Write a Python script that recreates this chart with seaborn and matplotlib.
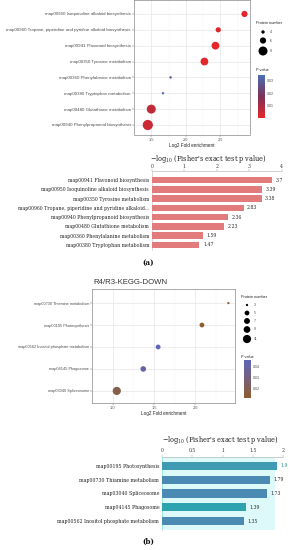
import numpy as np
import pandas as pd
import matplotlib
matplotlib.use("Agg")
import matplotlib.pyplot as plt
import seaborn as sns
from matplotlib.colors import LinearSegmentedColormap, Normalize
from matplotlib.cm import ScalarMappable

# ---------------- data ----------------
# (a) dot plot
a_dot_pathways = [
    "map00950 Isoquinoline alkaloid biosynthesis",
    "map00960 Tropane, piperidine and pyridine alkaloid biosynthesis",
    "map00941 Flavonoid biosynthesis",
    "map00350 Tyrosine metabolism",
    "map00360 Phenylalanine metabolism",
    "map00380 Tryptophan metabolism",
    "map00480 Glutathione metabolism",
    "map00940 Phenylpropanoid biosynthesis",
]
a_dot_fold = [2.85, 2.47, 2.43, 2.27, 1.78, 1.67, 1.50, 1.45]
a_dot_proteins = [6, 5, 7, 7, 3, 3, 8, 9]
a_dot_pvalue = [0.0004, 0.0015, 0.0002, 0.0004, 0.0257, 0.0339, 0.0059, 0.0044]
a_size_breaks = [4, 6, 8]
a_p_ticks = [0.01, 0.02, 0.03]

# (a) bar chart
a_bar_labels = [
    "map00941 Flavonoid biosynthesis",
    "map00950 Isoquinoline alkaloid biosynthesis",
    "map00350 Tyrosine metabolism",
    "map00960 Tropane, piperidine and pyridine alkaloid...",
    "map00940 Phenylpropanoid biosynthesis",
    "map00480 Glutathione metabolism",
    "map00360 Phenylalanine metabolism",
    "map00380 Tryptophan metabolism",
]
a_bar_values = [3.7, 3.39, 3.38, 2.83, 2.36, 2.23, 1.59, 1.47]
a_bar_text = ["3.7", "3.39", "3.38", "2.83", "2.36", "2.23", "1.59", "1.47"]

# (b) dot plot
b_dot_pathways = [
    "map00730 Thiamine metabolism",
    "map00195 Photosynthesis",
    "map00562 Inositol phosphate metabolism",
    "map04145 Phagosome",
    "map03040 Spliceosome",
]
b_dot_fold = [2.40, 2.08, 1.55, 1.37, 1.05]
b_dot_proteins = [3, 5, 5, 6, 11]
b_dot_pvalue = [0.0162, 0.0126, 0.0447, 0.0407, 0.0186]
b_size_breaks = [3, 5, 7, 9, 11]
b_p_ticks = [0.02, 0.03, 0.04]

# (b) bar chart
b_bar_labels = [
    "map00195 Photosynthesis",
    "map00730 Thiamine metabolism",
    "map03040 Spliceosome",
    "map04145 Phagosome",
    "map00562 Inositol phosphate metabolism",
]
b_bar_values = [1.9, 1.79, 1.73, 1.39, 1.35]
b_bar_text = ["1.9", "1.79", "1.73", "1.39", "1.35"]

# ---------------- layout helpers ----------------
W, H = 293, 550
plt.rcParams["mathtext.fontset"] = "dejavuserif"
fig = plt.figure(figsize=(W / 100, H / 100), dpi=100)
fig.patch.set_facecolor("white")


def rect(l, t, r, b):
    return [l / W, 1 - b / H, (r - l) / W, (b - t) / H]


def area(d_px):
    return (d_px * 0.72) ** 2


SANS = "Liberation Sans"
SERIF = "DejaVu Serif"
GRAYTXT = "#4D4D4D"


def dotplot(ax, df, cmap, norm, sizes, xlim, ylim, xticks, ylab_fs):
    ax.set_facecolor("white")
    sns.scatterplot(data=df, x="fold", y="pathway", hue="pvalue", size="proteins",
                    palette=cmap, hue_norm=norm, sizes=sizes, legend=False,
                    ax=ax, linewidth=0, zorder=3)
    ax.set_xlim(*xlim)
    ax.set_ylim(*ylim)
    ax.set_xticks(xticks)
    ax.set_xticklabels([f"{t:.1f}" for t in xticks], fontsize=2.8, family=SANS, color=GRAYTXT)
    minor = [(xticks[i] + xticks[i + 1]) / 2 for i in range(len(xticks) - 1)]
    minor = [xticks[0] - 0.25] + minor + [xticks[-1] + 0.25]
    ax.set_xticks(minor, minor=True)
    ax.grid(True, which="major", color="#E6E6E6", lw=0.5)
    ax.grid(True, which="minor", axis="x", color="#F2F2F2", lw=0.3)
    ax.set_axisbelow(True)
    ax.tick_params(axis="both", which="major", length=1.2, width=0.3, color="#555555", pad=1)
    ax.tick_params(axis="x", which="minor", length=0)
    for lab in ax.get_yticklabels():
        lab.set_fontsize(ylab_fs)
        lab.set_family(SANS)
        lab.set_color(GRAYTXT)
    for s in ax.spines.values():
        s.set_color("#8A8A8A")
        s.set_linewidth(0.5)
    ax.set_ylabel("")
    ax.set_xlabel("Log2 Fold enrichment", fontsize=3.3, family=SANS, color="#222222", labelpad=1)


def barplot(ax, labels, values, texts, colors, width, xlim, xticks, xtick_labels, ylim,
            label_fs, text_colors, tick_pad):
    dfb = pd.DataFrame({"label": labels, "value": values})
    sns.barplot(data=dfb, x="value", y="label", hue="label", palette=colors, legend=False,
                orient="h", width=width, ax=ax, zorder=3)
    ax.set_xlim(*xlim)
    ax.set_ylim(*ylim)
    ax.xaxis.tick_top()
    ax.set_xticks(xticks)
    ax.set_xticklabels(xtick_labels, fontsize=3.3, family=SERIF, color="#333333")
    ax.tick_params(axis="x", length=1.2, width=0.3, color="#999999", pad=tick_pad)
    ax.tick_params(axis="y", length=0, pad=2)
    for lab in ax.get_yticklabels():
        lab.set_fontsize(label_fs)
        lab.set_family(SERIF)
        lab.set_color("#222222")
    ax.set_ylabel("")
    ax.set_xlabel("")
    for s in ["right", "bottom"]:
        ax.spines[s].set_visible(False)
    ax.spines["top"].set_color("#AAAAAA")
    ax.spines["top"].set_linewidth(0.4)
    ax.spines["left"].set_color("#BBBBBB")
    ax.spines["left"].set_linewidth(0.4)
    for i, cont in enumerate(ax.containers):
        ax.bar_label(cont, labels=[texts[i]], padding=2.5, fontsize=3.3, family=SERIF,
                     color=text_colors[i])
    ax.set_facecolor("none")


# ---------------- (a) dot plot ----------------
cmap_a = LinearSegmentedColormap.from_list("a", ["#E4262A", "#7C3158", "#4A6FB6"])
norm_a = (0.0002, 0.0345)
sizes_a = {3: area(2.4), 4: area(3.4), 5: area(5.2), 6: area(6.2), 7: area(7.8), 8: area(9.0), 9: area(10.2)}
ax1 = fig.add_axes(rect(134, 0, 250, 134.5))
df_a = pd.DataFrame({"pathway": a_dot_pathways, "fold": a_dot_fold,
                     "proteins": a_dot_proteins, "pvalue": a_dot_pvalue})
dotplot(ax1, df_a, cmap_a, norm_a, sizes_a, (1.38, 2.93), (7.6, -0.88), [1.5, 2.0, 2.5], 3.15)

# ---------------- (a) bar chart ----------------
ax2 = fig.add_axes(rect(151.7, 171, 281.7, 250))
barplot(ax2, a_bar_labels, a_bar_values, a_bar_text, ["#F26A6B"] * len(a_bar_values), 0.72,
        (0, 4), [0, 1, 2, 3, 4], ["0", "1", "2", "3", "4"], (7.54, -0.97), 3.35,
        ["#222222"] * len(a_bar_values), 0.4)

# ---------------- (b) dot plot ----------------
cmap_b = LinearSegmentedColormap.from_list("b", ["#8E5E2C", "#76607A", "#5E66B6"])
norm_b = (0.012, 0.0453)
sizes_b = {3: area(2.3), 5: area(4.8), 6: area(5.6), 7: area(5.9), 9: area(6.7), 11: area(8.2)}
ax3 = fig.add_axes(rect(92, 289, 235, 403))
df_b = pd.DataFrame({"pathway": b_dot_pathways, "fold": b_dot_fold,
                     "proteins": b_dot_proteins, "pvalue": b_dot_pvalue})
dotplot(ax3, df_b, cmap_b, norm_b, sizes_b, (0.99, 2.48), (4.55, -0.64), [1.0, 1.5, 2.0], 2.75)
ax3.set_title("R4/R3-KEGG-DOWN", fontsize=5.6, family=SANS, color="#333333", pad=3.5, loc="left", x=0.01)

# ---------------- (b) bar chart ----------------
ax4 = fig.add_axes(rect(162, 457, 283, 530))
ax4.axvspan(-0.03, 1.86, color="#DDF9F9", zorder=0, lw=0)
barplot(ax4, b_bar_labels, b_bar_values, b_bar_text,
        ["#2BA6C8", "#3A8DC4", "#3A8DC4", "#18B4C6", "#3A8DC4"], 0.6,
        (0, 2.0), [0, 0.5, 1, 1.5, 2], ["0", "0.5", "1", "1.5", "2"], (4.65, -0.65), 3.45,
        ["#1E9A78", "#222222", "#222222", "#222222", "#222222"], 1.9)
ax4.spines["left"].set_color("#7FD8C8")

# ---------------- overlay: titles, legends & panel letters ----------------
ov = fig.add_axes([0, 0, 1, 1])
ov.set_xlim(0, W)
ov.set_ylim(H, 0)
ov.axis("off")
ov.patch.set_alpha(0)

bar_title = r"$-\mathrm{log}_{10}$ (Fisher's exact test p value)"
ov.text(208.5, 159.3, bar_title, fontsize=4.7, family=SERIF, color="#222222", ha="center", va="center")
ov.text(220, 440.5, bar_title, fontsize=4.7, family=SERIF, color="#222222", ha="center", va="center")


def size_legend(x_title, y_title, x_dot, ys, breaks, sizes):
    ov.text(x_title, y_title, "Protein number", fontsize=2.8, family=SANS, color="#222222", va="center")
    ov.scatter([x_dot] * len(ys), ys, s=[sizes[b] for b in breaks], c="black", lw=0)
    for y, b in zip(ys, breaks):
        ov.text(x_dot + 7, y, str(b), fontsize=2.6, family=SANS, color=GRAYTXT, va="center")


size_legend(256, 23, 263, [32, 40.5, 51], a_size_breaks, sizes_a)
size_legend(241, 297, 247, [305, 313, 321, 329.5, 339], b_size_breaks, sizes_b)

ov.text(256, 70, "P value", fontsize=2.8, family=SANS, color="#222222", va="center")
ov.text(241, 357, "P value", fontsize=2.8, family=SANS, color="#222222", va="center")


def colorbar(box, cmap, norm, ticks):
    cax = fig.add_axes(rect(*box))
    cb = fig.colorbar(ScalarMappable(Normalize(*norm), cmap), cax=cax)
    cb.set_ticks(ticks)
    cb.set_ticklabels([f"{t:.2f}" for t in ticks])
    cb.outline.set_visible(False)
    cax.tick_params(length=0, labelsize=2.6, pad=1.5, colors=GRAYTXT)
    for lab in cax.get_yticklabels():
        lab.set_family(SANS)


colorbar((257.5, 75, 264.5, 118), cmap_a, norm_a, a_p_ticks)
colorbar((243.5, 360, 250.5, 398), cmap_b, norm_b, b_p_ticks)

ov.text(148.5, 263, "(a)", fontsize=5.2, family=SERIF, weight="bold", ha="center", va="center", color="#111111")
ov.text(148.5, 542, "(b)", fontsize=5.2, family=SERIF, weight="bold", ha="center", va="center", color="#111111")

fig.savefig("out.png", dpi=100, facecolor="white")
